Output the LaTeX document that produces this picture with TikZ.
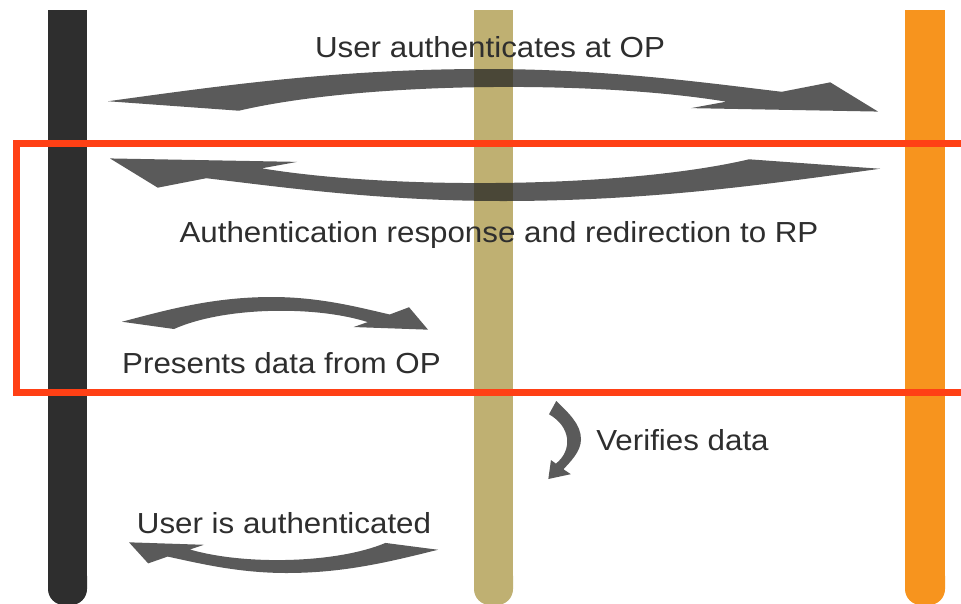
\documentclass[tikz,border=0pt]{standalone}
\usepackage{fontspec}
\setmainfont{Liberation Sans}
\definecolor{barblack}{HTML}{2E2E2E}
\definecolor{barkhaki}{HTML}{BFB072}
\definecolor{barorange}{HTML}{F7941E}
\definecolor{framered}{HTML}{FF4015}
\tikzset{
  arrowfill/.style={fill=black!86, fill opacity=0.75},
  lbl/.style={text=black!82, font=\fontsize{29}{29}\selectfont, inner sep=0pt, anchor=base, xscale=1.08},
  bigarrow/.pic={
    \fill[arrowfill] (0,0.75) .. controls (0.15,0.38) and (0.3,0) .. (0.49,0)
      .. controls (0.65,0) and (0.78,0.33) .. (0.875,0.53)
      -- (0.938,0.31) -- (1,0.99) -- (0.757,0.91) -- (0.803,0.76)
      .. controls (0.63,0.25) and (0.33,0.3) .. (0.17,0.97) -- cycle;
  },
  lifeline/.style={fill=#1},
}
\begin{document}
\begin{tikzpicture}[x=1pt,y=-1pt]
\useasboundingbox (0,0) rectangle (961,603);
\fill[white] (0,0) rectangle (961,603);
% lifelines
\foreach \xl/\xr/\c in {48/87/barblack, 474/513/barkhaki, 905/945/barorange}{
  \fill[lifeline=\c] (\xl,10) rectangle (\xr,590);
  \fill[lifeline=\c, rounded corners=16pt] (\xl,560) rectangle (\xr,605);
}
% arrows
\begin{scope}[shift={(108,69)}, xscale=770, yscale=43]
  \pic[transform shape] {bigarrow};
\end{scope}
\begin{scope}[shift={(880,201)}, xscale=-770, yscale=-43]
  \pic[transform shape] {bigarrow};
\end{scope}
\begin{scope}[shift={(122,297)}, xscale=306, yscale=33]
  \pic[transform shape] {bigarrow};
\end{scope}
\begin{scope}[shift={(438,573)}, xscale=-309, yscale=-31]
  \pic[transform shape] {bigarrow};
\end{scope}
\begin{scope}[cm={0,-78,33,0,(581,401)}]
  \pic[transform shape] {bigarrow};
\end{scope}
% labels
\node[lbl] (t1) at (490,57) {User authenticates at OP};
\node[lbl] (t2) at (499,242) {Authentication response and redirection to RP};
\node[lbl] (t3) at (281.5,373) {Presents data from OP};
\node[lbl] (t4) at (682.5,450) {Verifies data};
\node[lbl] (t5) at (284,533) {User is authenticated};
% highlight frame
\draw[framered, line width=7pt] (16,143) rectangle (980,392);
\end{tikzpicture}
\end{document}
